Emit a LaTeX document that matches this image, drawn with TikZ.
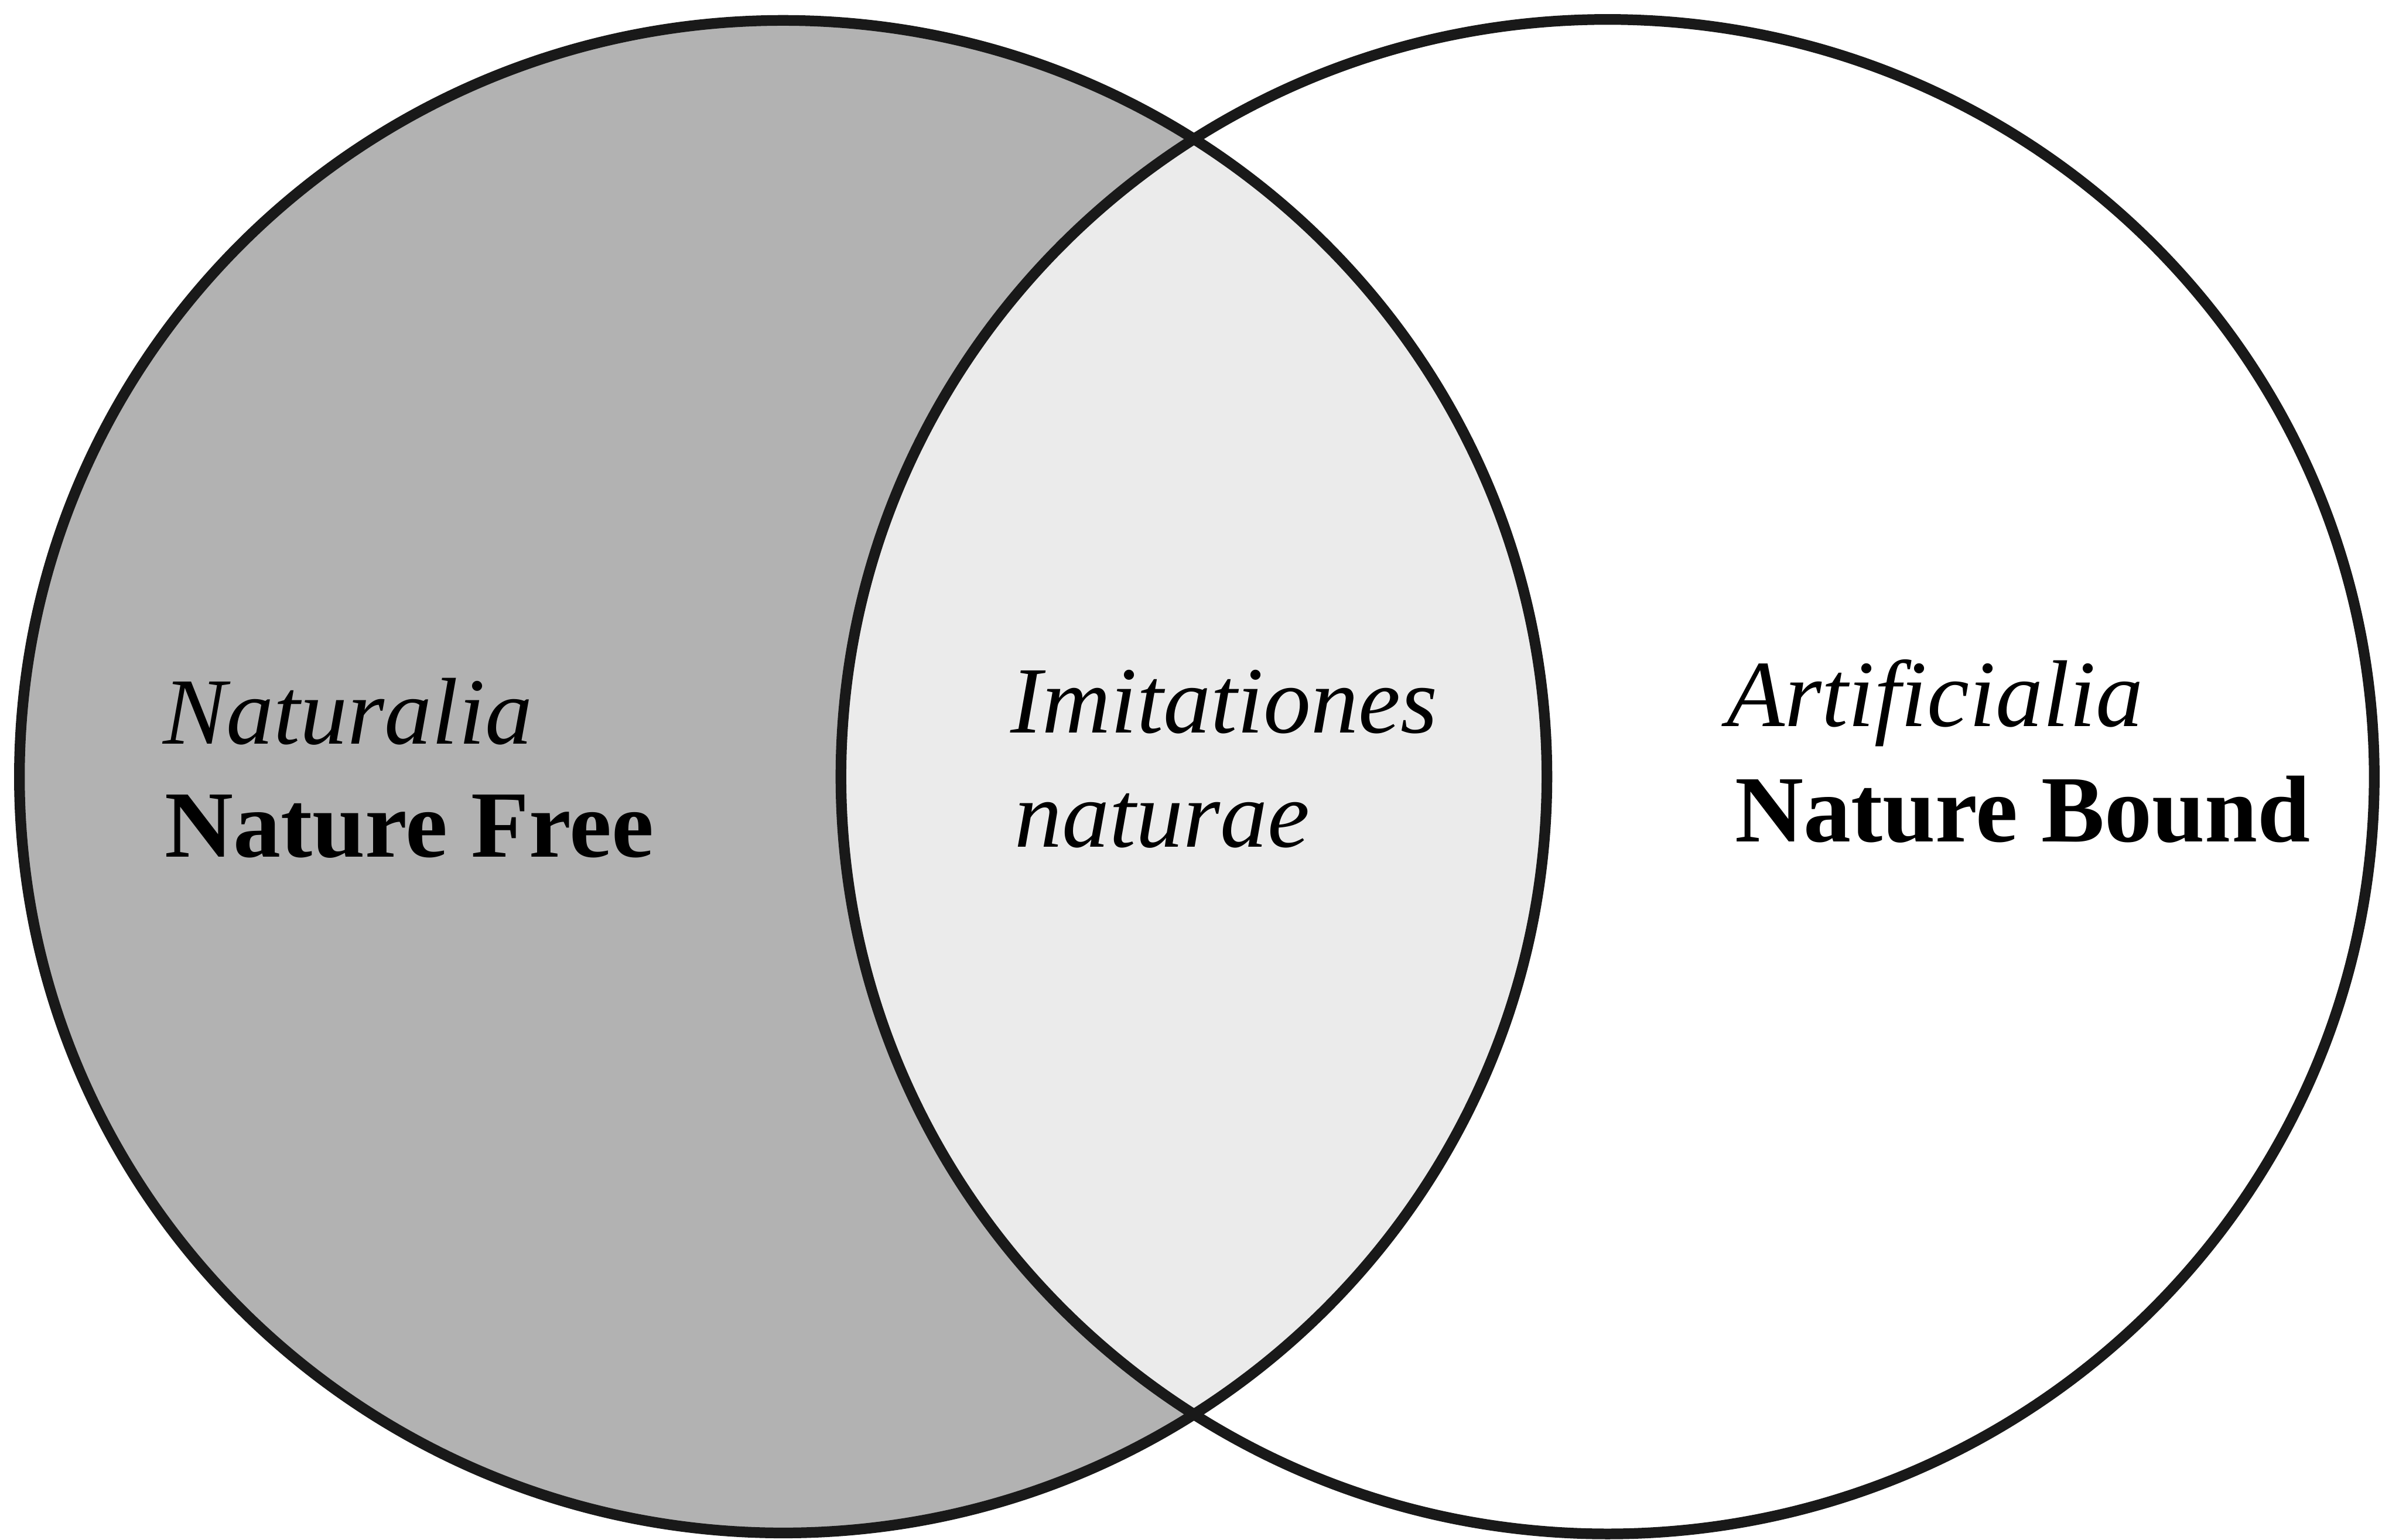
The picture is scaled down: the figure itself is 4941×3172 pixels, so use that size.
\documentclass[tikz,border=0pt]{standalone}
\usepackage{fontspec}
\setmainfont{Liberation Serif}

\begin{document}
\begin{tikzpicture}[x=0.05mm, y=-0.05mm,
    ring/.style={draw=black!90, line width=1.1mm},
    lbl/.style={anchor=base west, inner sep=0, font=\fontsize{27.8}{33}\selectfont}]
    % page
    \fill[white] (0,0) rectangle (4941,3172);
    \useasboundingbox (0,0) rectangle (4941,3172);

    % naturalia
    \fill[black!30] (1613,1600) ellipse [x radius=1573, y radius=1558];

    % overlap
    \begin{scope}
        \clip (1613,1600) ellipse [x radius=1573, y radius=1558];
        \fill[black!8] (3311,1600) ellipse [x radius=1579, y radius=1560];
    \end{scope}

    % outlines
    \draw[ring] (1613,1600) ellipse [x radius=1573, y radius=1558];
    \draw[ring] (3311,1600) ellipse [x radius=1579, y radius=1560];

    % left
    \node[lbl] (natlat) at (335,1532) {\itshape Naturalia};
    \node[lbl] (natfree) at (338,1765) {\bfseries Nature Free};

    % middle
    \node[lbl] (imitlat) at (2080,1510) {\itshape Imitationes};
    \node[lbl] (imitnat) at (2088,1745) {\itshape naturae};

    % right
    \node[lbl] (artlat) at (3555,1496) {\itshape Artificialia};
    \node[lbl] (natbound) at (3572,1734) {\bfseries Nature Bound};
\end{tikzpicture}
\end{document}
